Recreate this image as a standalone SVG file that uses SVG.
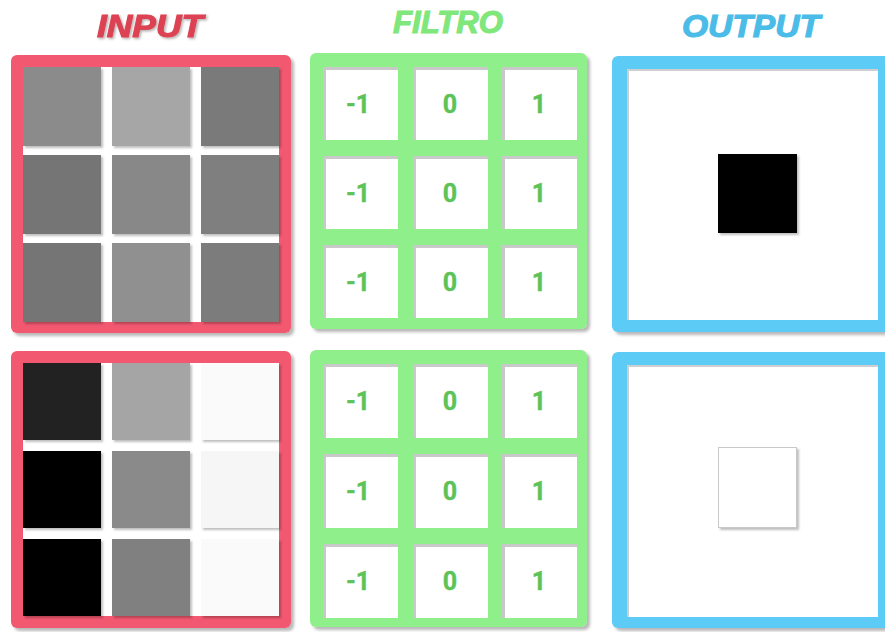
<svg xmlns="http://www.w3.org/2000/svg" width="885" height="632" viewBox="0 0 885 632">
  <defs>
    <filter id="sh" x="-5%" y="-5%" width="115%" height="115%">
      <feDropShadow dx="3" dy="3" stdDeviation="1.5" flood-color="#000" flood-opacity="0.28"/>
    </filter>
    <filter id="csh" x="-10%" y="-10%" width="125%" height="125%">
      <feDropShadow dx="2" dy="2" stdDeviation="1.2" flood-color="#000" flood-opacity="0.25"/>
    </filter>
    <filter id="tsh" x="-10%" y="-20%" width="120%" height="150%">
      <feDropShadow dx="1.5" dy="1.5" stdDeviation="0.8" flood-color="#000" flood-opacity="0.3"/>
    </filter>
  </defs>
  <style>
    .title { font-family: "Liberation Sans", Arial, sans-serif; font-weight: bold; font-style: italic; font-size: 31px; text-anchor: middle; stroke-width: 1.1px; }
    .num { font-family: Roboto, "Liberation Sans", sans-serif; font-weight: bold; font-size: 25px; fill: #5cc359; stroke: #5cc359; stroke-width: 0.4px; text-anchor: middle; }
    .red { fill: #f2596f; }
    .green { fill: #8eef8b; }
    .blue { fill: #5ccbf5; }
    .cellbg { fill: #c9c9c9; }
    .cellw { fill: #ffffff; }
  </style>
  <rect width="885" height="632" fill="#ffffff"/>

  <g id="titles">
    <text class="title" x="150" y="37" fill="#dc4352" stroke="#dc4352" filter="url(#tsh)" textLength="106" lengthAdjust="spacingAndGlyphs">INPUT</text>
    <text class="title" x="448" y="33" fill="#7fe77b" stroke="#7fe77b" textLength="110" lengthAdjust="spacingAndGlyphs">FILTRO</text>
    <text class="title" x="751" y="37" fill="#4bbce7" stroke="#4bbce7" textLength="138" lengthAdjust="spacingAndGlyphs">OUTPUT</text>
  </g>

  <!-- INPUT top -->
  <g id="input1">
    <rect class="red" x="11" y="55" width="280" height="278" rx="6" filter="url(#sh)"/>
    <rect x="23" y="67" width="256" height="255" fill="#ffffff"/>
    <g filter="url(#csh)">
      <rect x="23" y="67" width="78" height="79" fill="#8b8b8b"/>
      <rect x="112" y="67" width="78" height="79" fill="#a6a6a6"/>
      <rect x="201" y="67" width="78" height="79" fill="#7a7a7a"/>
      <rect x="23" y="155" width="78" height="79" fill="#757575"/>
      <rect x="112" y="155" width="78" height="79" fill="#888888"/>
      <rect x="201" y="155" width="78" height="79" fill="#7f7f7f"/>
      <rect x="23" y="243" width="78" height="79" fill="#747474"/>
      <rect x="112" y="243" width="78" height="79" fill="#909090"/>
      <rect x="201" y="243" width="78" height="79" fill="#7b7b7b"/>
    </g>
  </g>

  <!-- INPUT bottom -->
  <g id="input2">
    <rect class="red" x="11" y="351" width="280" height="277" rx="6" filter="url(#sh)"/>
    <rect x="23" y="363" width="256" height="253" fill="#ffffff"/>
    <g filter="url(#csh)">
      <rect x="23" y="363" width="78" height="77" fill="#222222"/>
      <rect x="112" y="363" width="78" height="77" fill="#a5a5a5"/>
      <rect x="201" y="363" width="78" height="77" fill="#fafafa"/>
      <rect x="23" y="451" width="78" height="77" fill="#000000"/>
      <rect x="112" y="451" width="78" height="77" fill="#8a8a8a"/>
      <rect x="201" y="451" width="78" height="77" fill="#f6f6f6"/>
      <rect x="23" y="539" width="78" height="77" fill="#000000"/>
      <rect x="112" y="539" width="78" height="77" fill="#808080"/>
      <rect x="201" y="539" width="78" height="77" fill="#fafafa"/>
    </g>
  </g>

  <!-- FILTRO top -->
  <g id="filtro1">
    <rect class="green" x="310" y="53" width="277" height="276" rx="6" filter="url(#sh)"/>
    <rect class="cellbg" x="323" y="67" width="75" height="73"/><rect class="cellw" x="326" y="70" width="72" height="70"/>
    <rect class="cellbg" x="413" y="67" width="75" height="73"/><rect class="cellw" x="416" y="70" width="72" height="70"/>
    <rect class="cellbg" x="502" y="67" width="75" height="73"/><rect class="cellw" x="505" y="70" width="72" height="70"/>
    <rect class="cellbg" x="323" y="156" width="75" height="73"/><rect class="cellw" x="326" y="159" width="72" height="70"/>
    <rect class="cellbg" x="413" y="156" width="75" height="73"/><rect class="cellw" x="416" y="159" width="72" height="70"/>
    <rect class="cellbg" x="502" y="156" width="75" height="73"/><rect class="cellw" x="505" y="159" width="72" height="70"/>
    <rect class="cellbg" x="323" y="245" width="75" height="73"/><rect class="cellw" x="326" y="248" width="72" height="70"/>
    <rect class="cellbg" x="413" y="245" width="75" height="73"/><rect class="cellw" x="416" y="248" width="72" height="70"/>
    <rect class="cellbg" x="502" y="245" width="75" height="73"/><rect class="cellw" x="505" y="248" width="72" height="70"/>
    <text class="num" x="358" y="113">-1</text><text class="num" x="450" y="113">0</text><text class="num" x="539" y="113">1</text>
    <text class="num" x="358" y="202">-1</text><text class="num" x="450" y="202">0</text><text class="num" x="539" y="202">1</text>
    <text class="num" x="358" y="291">-1</text><text class="num" x="450" y="291">0</text><text class="num" x="539" y="291">1</text>
  </g>

  <!-- FILTRO bottom -->
  <g id="filtro2">
    <rect class="green" x="310" y="350" width="277" height="277" rx="6" filter="url(#sh)"/>
    <rect class="cellbg" x="323" y="364" width="75" height="74"/><rect class="cellw" x="326" y="367" width="72" height="71"/>
    <rect class="cellbg" x="413" y="364" width="75" height="74"/><rect class="cellw" x="416" y="367" width="72" height="71"/>
    <rect class="cellbg" x="502" y="364" width="75" height="74"/><rect class="cellw" x="505" y="367" width="72" height="71"/>
    <rect class="cellbg" x="323" y="454" width="75" height="74"/><rect class="cellw" x="326" y="457" width="72" height="71"/>
    <rect class="cellbg" x="413" y="454" width="75" height="74"/><rect class="cellw" x="416" y="457" width="72" height="71"/>
    <rect class="cellbg" x="502" y="454" width="75" height="74"/><rect class="cellw" x="505" y="457" width="72" height="71"/>
    <rect class="cellbg" x="323" y="544" width="75" height="74"/><rect class="cellw" x="326" y="547" width="72" height="71"/>
    <rect class="cellbg" x="413" y="544" width="75" height="74"/><rect class="cellw" x="416" y="547" width="72" height="71"/>
    <rect class="cellbg" x="502" y="544" width="75" height="74"/><rect class="cellw" x="505" y="547" width="72" height="71"/>
    <text class="num" x="358" y="410">-1</text><text class="num" x="450" y="410">0</text><text class="num" x="539" y="410">1</text>
    <text class="num" x="358" y="500">-1</text><text class="num" x="450" y="500">0</text><text class="num" x="539" y="500">1</text>
    <text class="num" x="358" y="590">-1</text><text class="num" x="450" y="590">0</text><text class="num" x="539" y="590">1</text>
  </g>

  <!-- OUTPUT top -->
  <g id="output1">
    <rect class="blue" x="612" y="56" width="278" height="276" rx="6" filter="url(#sh)"/>
    <rect x="627" y="69" width="251" height="251" fill="#cfcfcf"/>
    <rect x="629" y="71" width="249" height="249" fill="#ffffff"/>
    <rect x="718" y="154" width="79" height="79" fill="#000000" filter="url(#csh)"/>
  </g>

  <!-- OUTPUT bottom -->
  <g id="output2">
    <rect class="blue" x="612" y="352" width="278" height="276" rx="6" filter="url(#sh)"/>
    <rect x="627" y="365" width="251" height="252" fill="#cfcfcf"/>
    <rect x="629" y="367" width="249" height="250" fill="#ffffff"/>
    <rect x="718.5" y="447.5" width="78" height="80" fill="#ffffff" stroke="#c8c8c8" stroke-width="1" filter="url(#csh)"/>
  </g>
</svg>
